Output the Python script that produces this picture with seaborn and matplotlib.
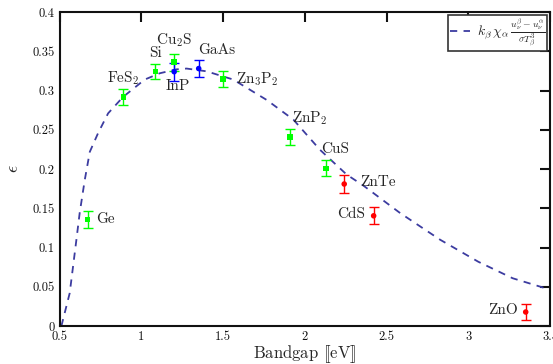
import matplotlib
matplotlib.use('Agg')
import matplotlib.pyplot as plt
import seaborn as sns
import pandas as pd

# measured cells
materials = ['Ge', 'FeS$_2$', 'Si', 'Cu$_2$S', 'InP', 'GaAs', 'Zn$_3$P$_2$',
             'ZnP$_2$', 'CuS', 'ZnTe', 'CdS', 'ZnO']
bandgap = [0.67, 0.89, 1.085, 1.20, 1.20, 1.35, 1.50, 1.91, 2.13, 2.24, 2.42, 3.35]
efficiency = [0.136, 0.292, 0.324, 0.336, 0.324, 0.328, 0.3145, 0.241, 0.201, 0.181, 0.1405, 0.018]
error = [0.011, 0.0105, 0.0095, 0.0105, 0.0117, 0.0106, 0.0104, 0.0106, 0.010, 0.011, 0.011, 0.0106]
group = ['g', 'g', 'g', 'g', 'b', 'b', 'g', 'g', 'g', 'r', 'r', 'r']

# label placement (data coords) next to each point
label_x = [0.72, 0.89, 1.085, 1.20, 1.22, 1.345, 1.578, 1.92, 2.10, 2.337, 2.37, 3.30]
label_y = [0.136, 0.316, 0.348, 0.364, 0.306, 0.351, 0.315, 0.265, 0.226, 0.184, 0.143, 0.020]
label_ha = ['left', 'center', 'center', 'center', 'center', 'left', 'left',
            'left', 'left', 'left', 'right', 'right']

# theoretical curve
curve_x = [0.51, 0.561, 0.602, 0.622, 0.653, 0.684, 0.735, 0.796, 0.888, 1.02,
           1.112, 1.214, 1.276, 1.398, 1.561, 1.766, 1.929, 2.092, 2.255, 2.357,
           2.582, 2.827, 3.06, 3.27, 3.49]
curve_y = [0.0, 0.042, 0.110, 0.144, 0.186, 0.222, 0.246, 0.271, 0.292, 0.314,
           0.322, 0.327, 0.328, 0.3245, 0.314, 0.288, 0.263, 0.2245, 0.193, 0.179,
           0.144, 0.110, 0.082, 0.061, 0.047]

sns.set_style('white')
plt.rcParams['font.family'] = ['cmr10', 'DejaVu Serif']
plt.rcParams['mathtext.fontset'] = 'cm'
plt.rcParams['axes.formatter.use_mathtext'] = True

colors = {'g': '#00ff00', 'b': '#0000ff', 'r': '#ff0000'}
markers = {'g': 's', 'b': 'o', 'r': 'o'}

fig, ax = plt.subplots(figsize=(5.53, 3.64), dpi=100)
fig.subplots_adjust(left=0.108, right=0.995, top=0.967, bottom=0.104)

ax.plot(curve_x, curve_y, color='#3c3ca0', lw=1.3, linestyle=(0, (4, 3.5)),
        label=r'$k_\beta\,\chi_\alpha\,\frac{u_\nu^\beta - u_\nu^\alpha}{\sigma T_\beta^3}$')

pts = pd.DataFrame({'bandgap': bandgap, 'eff': efficiency, 'group': group})
for i in range(len(materials)):
    ax.errorbar(bandgap[i], efficiency[i], yerr=error[i], fmt='none',
                ecolor=colors[group[i]], capsize=3.5, elinewidth=1, capthick=1)
    ax.text(label_x[i], label_y[i], materials[i], ha=label_ha[i], va='center',
            fontsize=11)
sns.scatterplot(data=pts, x='bandgap', y='eff', hue='group', style='group',
                palette=colors, markers=markers, s=16, linewidth=0, ax=ax,
                legend=False, zorder=3)

ax.set_xlim(0.5, 3.5)
ax.set_ylim(0, 0.4)
ax.set_xticks([0.5, 1, 1.5, 2, 2.5, 3, 3.5])
ax.set_xticklabels(['0.5', '1', '1.5', '2', '2.5', '3', '3.5'])
ax.set_yticks([0, 0.05, 0.1, 0.15, 0.2, 0.25, 0.3, 0.35, 0.4])
ax.set_yticklabels(['0', '0.05', '0.1', '0.15', '0.2', '0.25', '0.3', '0.35', '0.4'])
ax.tick_params(direction='in', length=7, width=1.5, labelsize=9, top=True, right=True,
               colors='#111111')
for s in ax.spines.values():
    s.set_linewidth(1.5)
    s.set_color('#111111')

ax.set_xlabel(r'Bandgap $[\![\mathrm{eV}]\!]$', fontsize=12, labelpad=0)
ax.set_ylabel(r'$\epsilon$', fontsize=13, labelpad=8)

leg = ax.legend(loc='upper right', fontsize=10, handlelength=1.4, fancybox=False,
                framealpha=1, borderpad=0.15, borderaxespad=0.25, handletextpad=0.5)
leg.get_frame().set_edgecolor('#333333')
leg.get_frame().set_linewidth(1.2)

plt.savefig('out.png', dpi=100)
